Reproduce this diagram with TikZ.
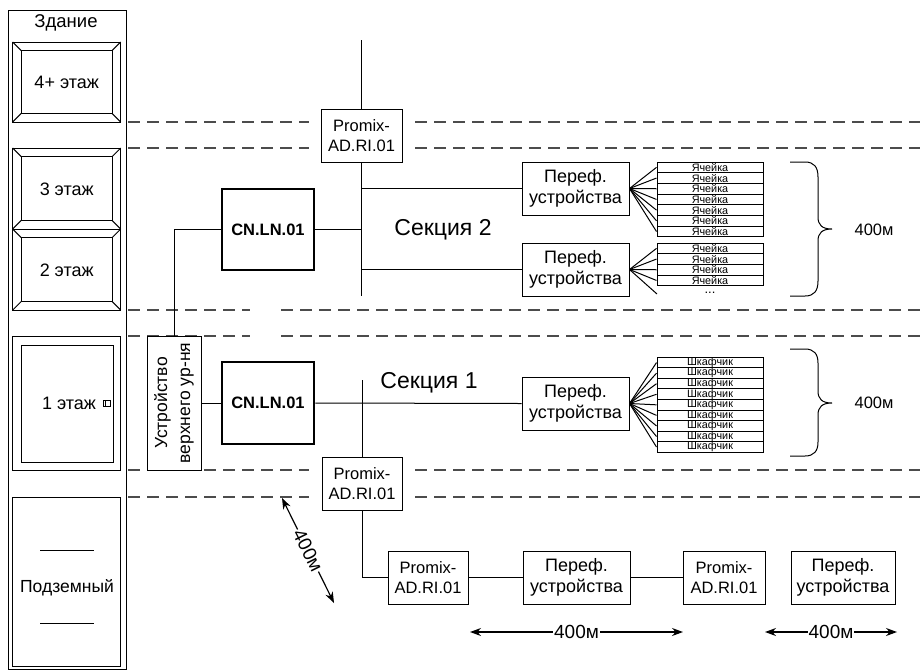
\documentclass[tikz,border=0pt]{standalone}
\usepackage{fontspec}
\setmainfont{Liberation Sans}
\usetikzlibrary{arrows.meta,calc}
\newcommand\bevelbox[5]{% x1 y1 x2 y2 inset
  \draw (#1,#2) rectangle (#3,#4);
  \draw ($(#1,#2)+(#5,#5)$) rectangle ($(#3,#4)+(-#5,-#5)$);
  \draw (#1,#2) -- ++(#5,#5);
  \draw (#3,#2) -- ++(-#5,#5);
  \draw (#1,#4) -- ++(#5,-#5);
  \draw (#3,#4) -- ++(-#5,-#5);
}
\begin{document}
\begin{tikzpicture}[x=1pt,y=-1pt,line width=1pt,
  txt/.style={font=\fontsize{18}{20}\selectfont, inner sep=0pt, align=center},
  box/.style={draw, fill=white, line width=1pt, inner sep=0pt, align=center, font=\fontsize{18}{20.5}\selectfont},
  promix/.style={box, font=\fontsize{16.5}{20}\selectfont},
  cnbox/.style={box, line width=2.6pt, font=\bfseries\fontsize{16.5}{18}\selectfont},
  cell/.style={draw, line width=1pt, inner sep=0pt, minimum width=106pt, font=\fontsize{10.8}{10}\selectfont},
  floorline/.style={draw=black!70, line width=1.3pt, dash pattern=on 12pt off 7pt},
  dimarrow/.style={line width=1.2pt, {Stealth[length=11pt,width=8pt]}-{Stealth[length=11pt,width=8pt]}},
  dimtxt/.style={fill=white, inner sep=1pt, font=\fontsize{19}{20}\selectfont},
  conn/.style={line width=1pt}
]
\useasboundingbox (0,0) rectangle (920,670);
\fill[white] (0,0) rectangle (920,670);

% ---------- building ----------
\draw (8,10) rectangle (126,669);
\node[txt, font=\fontsize{18.5}{20}\selectfont] (zd) at (66,23) {Здание};
\bevelbox{12.7}{42}{120.7}{122}{8.5}
\node[txt] (f4) at (66.7,82) {4+ этаж};
\bevelbox{12.7}{148}{120.7}{229}{8.5}
\node[txt] (f3) at (66.7,189) {3 этаж};
\bevelbox{12.7}{229}{120.7}{310}{8.5}
\node[txt] (f2) at (66.7,270) {2 этаж};
\draw (12.7,336) rectangle (120.7,470);
\draw (21,345) rectangle (113,462);
\node[txt] (f1) at (69,403) {1 этаж};
\draw (103,400) rectangle (110.5,406);
\draw (105.5,400) -- (105.5,406);
\draw (12.7,497) rectangle (120.7,666);
\draw (40,550) -- (94,550);
\draw (40,623) -- (94,623);
\node[txt, font=\fontsize{17.5}{20}\selectfont] (fb) at (67,588) {Подземный};

% ---------- floor dashed lines ----------
\foreach \yy in {122,148,470,497}{
  \draw[floorline] (128,\yy) -- (309,\yy);
  \draw[floorline] (415,\yy) -- (920,\yy);
}
\foreach \yy in {310,336}{
  \draw[floorline] (128,\yy) -- (250,\yy);
  \draw[floorline] (281,\yy) -- (920,\yy);
}

% ---------- section 2 ----------
\node[promix, minimum width=81pt, minimum height=53pt] (pu) at (361.5,135.5) {Promix-\\AD.RI.01};
\coordinate (bustop) at (361.5,40);
\coordinate (busbot) at (361.5,296);
\draw[conn] (bustop) -- (pu.north);
\draw[conn] (pu.south) -- (busbot);
\node[cnbox, minimum width=92pt, minimum height=81pt] (cnu) at (268,229.5) {CN.LN.01};
\draw[conn] (cnu.east) -- (cnu.east -| pu.south);
\node[txt, font=\fontsize{23}{25}\selectfont] (s2) at (443,229.5) {Секция 2};
\node[box, minimum width=107pt, minimum height=53pt] (p1) at (575.5,188.5) {Переф.\\устройства};
\node[box, minimum width=107pt, minimum height=53pt] (p2) at (575.5,269.5) {Переф.\\устройства};
\draw[conn] (p1.west) -- (p1.west -| pu.south);
\draw[conn] (p2.west) -- (p2.west -| pu.south);
\foreach \i in {0,...,6}{
  \node[cell, minimum height=10.7pt] (ya\i) at (710,{162+10.7*\i+5.35}) {Ячейка};
  \draw[conn] (p1.east) -- (ya\i.west);
}
\foreach \i in {0,...,3}{
  \node[cell, minimum height=10.7pt] (yb\i) at (710,{243+10.7*\i+5.35}) {Ячейка};
  \draw[conn] (p2.east) -- (yb\i.west);
}
\coordinate (ybend) at (657,294);
\draw[conn] (p2.east) -- (ybend);
\node[txt, font=\fontsize{13}{13}\selectfont] (ydots) at (710,293) {...};
\draw (790,162) -- (805,162) .. controls (814,162) and (818,167) .. (818,177) -- (818,217) .. controls (818,225) and (822,229) .. (832,229) .. controls (822,229) and (818,233) .. (818,241) -- (818,281) .. controls (818,291) and (814,296) .. (805,296) -- (790,296);
\node[txt, font=\fontsize{16.5}{17}\selectfont] (d2) at (874,229.5) {400м};

% ---------- section 1 ----------
\node[box, rotate=90, minimum width=134pt, minimum height=54pt, font=\fontsize{17.5}{23}\selectfont] (ust) at (174,403) {Устройство\\верхнего ур-ня};
\draw[conn] (cnu.west) -| (ust.east);
\node[cnbox, minimum width=92pt, minimum height=82pt] (cnl) at (268,403) {CN.LN.01};
\draw[conn] (cnl.west) -- (cnl.west -| ust.south);
\node[box, minimum width=107pt, minimum height=53pt] (pl) at (575.5,403.5) {Переф.\\устройства};
\draw[conn] (cnl.east) -- (pl.west);
\node[txt, font=\fontsize{23}{25}\selectfont] (s1) at (429,383) {Секция 1};
\node[promix, minimum width=80pt, minimum height=53pt] (pa) at (362,483.5) {Promix-\\AD.RI.01};
\coordinate (bus1top) at (362,380);
\draw[conn] (bus1top) -- (pa.north);
\foreach \i in {0,...,8}{
  \node[cell, minimum height=10.56pt] (sh\i) at (710,{357.3+10.56*\i+5.28}) {Шкафчик};
  \draw[conn] (pl.east) -- (sh\i.west);
}
\draw (790,349) -- (805,349) .. controls (814,349) and (818,354) .. (818,363) -- (818,391) .. controls (818,399) and (822,403) .. (832,403) .. controls (822,403) and (818,407) .. (818,415) -- (818,442) .. controls (818,451) and (814,456) .. (805,456) -- (790,456);
\node[txt, font=\fontsize{16.5}{17}\selectfont] (d1) at (874,403) {400м};

% ---------- basement chain ----------
\node[promix, minimum width=80pt, minimum height=53pt] (pb) at (428,577.5) {Promix-\\AD.RI.01};
\node[box, minimum width=107pt, minimum height=53pt] (pf3) at (576.5,577.5) {Переф.\\устройства};
\node[promix, minimum width=82pt, minimum height=53pt] (pc) at (724,577.5) {Promix-\\AD.RI.01};
\node[box, minimum width=104pt, minimum height=53pt] (pf4) at (843,577.5) {Переф.\\устройства};
\draw[conn] (pa.south) |- (pb.west);
\draw[conn] (pb.east) -- (pf3.west);
\draw[conn] (pf3.east) -- (pc.west);

% ---------- dimension arrows ----------
\coordinate (da1) at (282,498);
\coordinate (da2) at (334,603);
\draw[dimarrow] (da1) -- node[sloped, dimtxt] (dd) {400м} (da2);
\coordinate (ha1) at (470,632);
\coordinate (ha2) at (683,632);
\draw[dimarrow] (ha1) -- node[dimtxt] (hd1) {400м} (ha2);
\coordinate (hb1) at (765,632);
\coordinate (hb2) at (897,632);
\draw[dimarrow] (hb1) -- node[dimtxt] (hd2) {400м} (hb2);
\end{tikzpicture}
\end{document}
